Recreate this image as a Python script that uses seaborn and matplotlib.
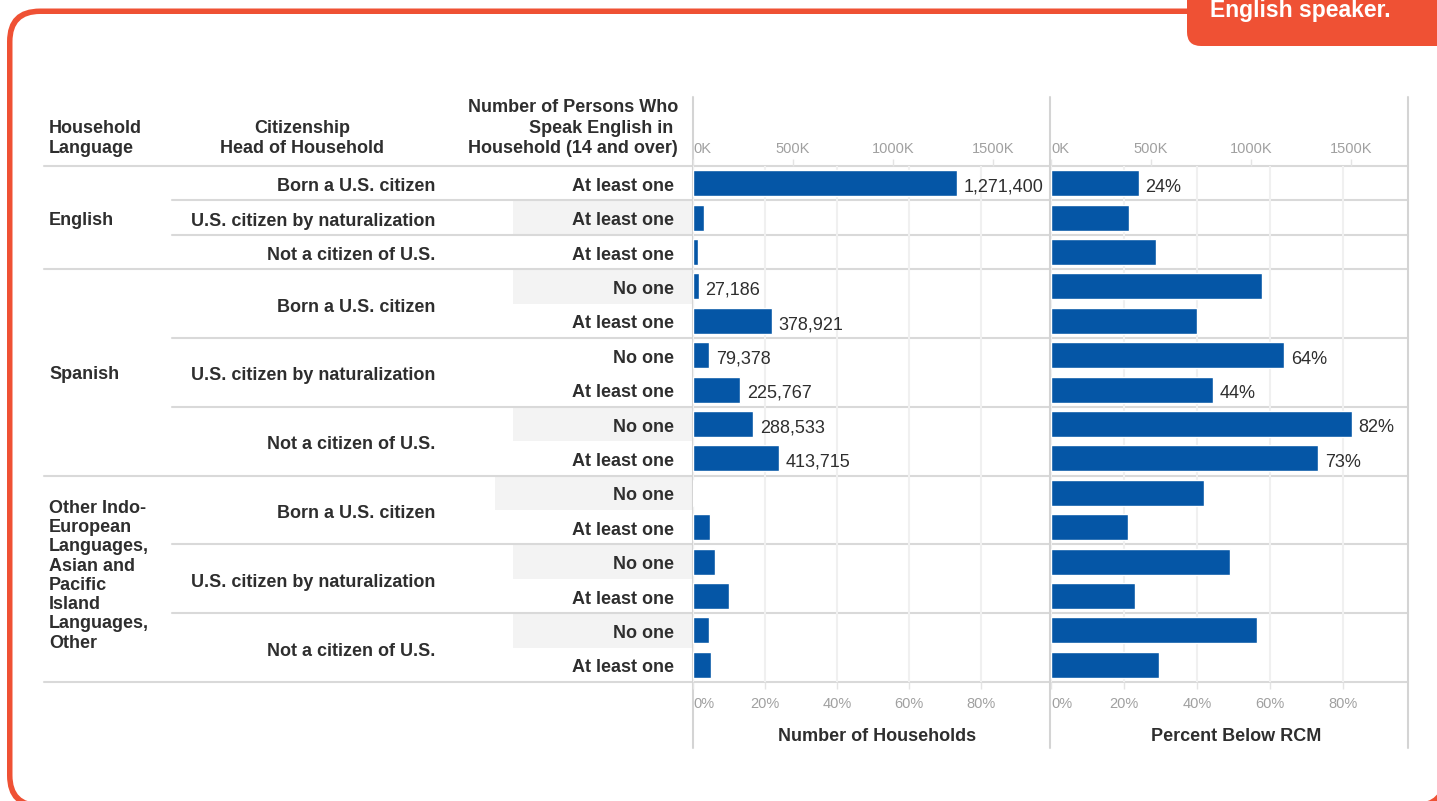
import matplotlib
matplotlib.use("Agg")
import matplotlib.pyplot as plt
from matplotlib.patches import FancyBboxPatch, Rectangle
from matplotlib.transforms import IdentityTransform
import seaborn as sns
import pandas as pd

# ---------------- data ----------------
languages = ["English"] * 3 + ["Spanish"] * 6 + ["Other"] * 6
citizenship = [
    "Born a U.S. citizen", "U.S. citizen by naturalization", "Not a citizen of U.S.",
    "Born a U.S. citizen", "Born a U.S. citizen",
    "U.S. citizen by naturalization", "U.S. citizen by naturalization",
    "Not a citizen of U.S.", "Not a citizen of U.S.",
    "Born a U.S. citizen", "Born a U.S. citizen",
    "U.S. citizen by naturalization", "U.S. citizen by naturalization",
    "Not a citizen of U.S.", "Not a citizen of U.S.",
]
english_speakers = ["At least one"] * 3 + ["No one", "At least one"] * 6
households = [1271400, 51000, 26500, 27186, 378921, 79378, 225767, 288533,
              413715, 5500, 80000, 108000, 176000, 75000, 85000]
pct_below_rcm = [24.0, 21.5, 28.9, 57.8, 40.0, 63.8, 44.4, 82.4, 73.2,
                 42.0, 21.0, 49.0, 22.9, 56.4, 29.7]
label_households = [True, False, False, True, True, True, True, True, True,
                    False, False, False, False, False, False]
label_pct = [True, False, False, False, False, True, True, True, True,
             False, False, False, False, False, False]
language_names = {
    "English": "English",
    "Spanish": "Spanish",
    "Other": "Other Indo-\nEuropean\nLanguages,\nAsian and\nPacific\nIsland\nLanguages,\nOther",
}
banded_rows = [1, 3, 7, 9, 11, 13]
k_ticks = [0, 500000, 1000000, 1500000]
k_tick_labels = ["0K", "500K", "1000K", "1500K"]
pct_ticks = [0, 20, 40, 60, 80]
pct_tick_labels = ["0%", "20%", "40%", "60%", "80%"]

# ---------------- layout & style ----------------
W, H = 1437, 801
TOP, ROW_H, N = 166, 34.4, len(households)
BOTTOM = TOP + ROW_H * N
P1_L, P1_R = 693, 1050
P2_L, P2_R = 1051, 1408
HH_PER_PX = 4825        # households per pixel in the left panel
PCT_PX_L = 3.6          # pixels per percent on the left panel's % axis
PCT_PX_R = 3.65         # pixels per percent in the right panel
K_PER_PX = 5000         # units per pixel on the top "K" axes

BLUE = "#0556a6"
ORANGE = "#ef5134"
TEXT = "#2e2e2e"
LINE = "#d9d9d9"
GRID = "#f0f0f0"
TICK_TXT = "#a0a0a0"
FS = 13

sns.set_style("white")
plt.rcParams["font.family"] = ["Liberation Sans", "DejaVu Sans"]

df = pd.DataFrame({
    "row": list(range(N)),
    "language": languages,
    "citizenship": citizenship,
    "speakers": english_speakers,
    "households": households,
    "pct": pct_below_rcm,
})

fig = plt.figure(figsize=(W / 100, H / 100), dpi=100)

# canvas in pixel coordinates (y downwards) for table text and rules
cv = fig.add_axes([0, 0, 1, 1])
cv.set_xlim(0, W)
cv.set_ylim(H, 0)
cv.axis("off")

def row_center(i):
    return TOP + (i + 0.5) * ROW_H

# outer rounded frame (orange ring) and callout tab, in device pixels (y upwards)
px = IdentityTransform()
cv.add_patch(FancyBboxPatch((7, H - 808.5), 1441, 800,
                            boxstyle="round,pad=0,rounding_size=33",
                            facecolor=ORANGE, edgecolor="none",
                            transform=px, clip_on=False, zorder=0))
cv.add_patch(FancyBboxPatch((12.5, H - 803), 1430, 789,
                            boxstyle="round,pad=0,rounding_size=27.5",
                            facecolor="white", edgecolor="none",
                            transform=px, clip_on=False, zorder=0.1))
cv.add_patch(FancyBboxPatch((1187, H - 46), 320, 120,
                            boxstyle="round,pad=0,rounding_size=14",
                            facecolor=ORANGE, edgecolor="none", transform=px,
                            clip_on=False, zorder=0.2))
cv.text(1300, 17, "English speaker.", color="white", fontsize=16.5,
        fontweight="bold", ha="center", va="baseline")

# banding in the speakers column
for i in banded_rows:
    x0 = 495 if i == 9 else 513
    cv.add_patch(Rectangle((x0, TOP + i * ROW_H), P1_L - x0, ROW_H,
                           facecolor="#f3f3f3", edgecolor="none", zorder=0.5))

# horizontal rules
cv.plot([44, P2_R], [TOP, TOP], color=LINE, lw=1.5)
for i in range(1, N + 1):
    y = TOP + i * ROW_H
    if i == N or languages[i] != languages[i - 1]:
        cv.plot([44, P2_R], [y, y], color=LINE, lw=1.5)
    elif citizenship[i] != citizenship[i - 1]:
        cv.plot([172, P2_R], [y, y], color=LINE, lw=1.5)

# vertical separators
for x in (P1_L, P1_R, P2_R):
    cv.plot([x, x], [97, 748], color="#d4d4d4", lw=1.5)

# column headers
hdr = dict(fontsize=FS, fontweight="bold", color=TEXT, va="baseline")
cv.text(49, 133, "Household", **hdr)
cv.text(49, 153, "Language", **hdr)
cv.text(302, 133, "Citizenship", ha="center", **hdr)
cv.text(302, 153, "Head of Household", ha="center", **hdr)
cv.text(678, 112, "Number of Persons Who", ha="right", **hdr)
cv.text(673, 133, "Speak English in", ha="right", **hdr)
cv.text(678, 153, "Household (14 and over)", ha="right", **hdr)

# language group labels
for lang in dict.fromkeys(languages):
    idx = [i for i, l in enumerate(languages) if l == lang]
    yc = (row_center(idx[0]) + row_center(idx[-1])) / 2
    name = language_names[lang]
    if "\n" in name:
        cv.text(49, yc - 3, name, fontsize=FS, fontweight="bold", color=TEXT,
                va="center", linespacing=1.17)
    else:
        cv.text(49, yc + 7, name, fontsize=FS, fontweight="bold", color=TEXT,
                va="baseline")

# citizenship labels (one per block)
start = 0
for i in range(1, N + 1):
    if i == N or citizenship[i] != citizenship[i - 1] or languages[i] != languages[i - 1]:
        yc = (row_center(start) + row_center(i - 1)) / 2
        cv.text(435, yc + 8, citizenship[start], fontsize=FS, fontweight="bold",
                color=TEXT, ha="right", va="baseline")
        start = i

# speakers labels
for i, s in enumerate(english_speakers):
    cv.text(674, row_center(i) + 7.5, s, fontsize=FS, fontweight="bold",
            color=TEXT, ha="right", va="baseline")

cv.text(877, 741, "Number of Households", fontsize=FS, fontweight="bold",
        color=TEXT, ha="center", va="baseline")
cv.text(1236, 741, "Percent Below RCM", fontsize=FS, fontweight="bold",
        color=TEXT, ha="center", va="baseline")


def bar_panel(left, right, col, xmax, bottom_ticks, to_k, from_k):
    ax = fig.add_axes([left / W, (H - BOTTOM) / H, (right - left) / W, (BOTTOM - TOP) / H])
    sns.barplot(data=df, x=col, y="row", orient="h", color=BLUE, saturation=1,
                width=0.76, errorbar=None, ax=ax, zorder=3)
    ax.set_facecolor("none")
    ax.set_xlim(0, xmax)
    ax.set_ylim(N - 0.5, -0.5)
    ax.set_xlabel("")
    ax.set_ylabel("")
    ax.set_yticks([])
    for sp in ax.spines.values():
        sp.set_visible(False)
    ax.set_xticks(bottom_ticks, labels=pct_tick_labels)
    ax.tick_params(axis="x", bottom=True, length=5, width=1, color="#e4e4e4",
                   labelsize=10.5, labelcolor=TICK_TXT, pad=6)
    ax.get_xticklabels()[0].set_ha("left")
    ax.grid(axis="x", color=GRID, lw=1.5)
    ax.set_axisbelow(True)
    top = ax.secondary_xaxis("top", functions=(to_k, from_k))
    top.set_xticks(k_ticks, labels=k_tick_labels)
    top.tick_params(length=5, width=1, color="#e4e4e4", labelsize=10.5,
                    labelcolor=TICK_TXT, pad=2)
    top.get_xticklabels()[0].set_ha("left")
    top.spines["top"].set_visible(False)
    return ax


ax1 = bar_panel(P1_L, P1_R, "households", (P1_R - P1_L) * HH_PER_PX,
                [p * PCT_PX_L * HH_PER_PX for p in pct_ticks],
                lambda x: x / HH_PER_PX * K_PER_PX,
                lambda k: k / K_PER_PX * HH_PER_PX)
ax2 = bar_panel(P2_L, P2_R, "pct", (P2_R - P2_L) / PCT_PX_R, pct_ticks,
                lambda x: x * PCT_PX_R * K_PER_PX,
                lambda k: k / K_PER_PX / PCT_PX_R)

# value labels
for i, (v, show) in enumerate(zip(households, label_households)):
    if show:
        ax1.annotate(f"{v:,}", (v, i), xytext=(5, -6), textcoords="offset points",
                     fontsize=FS, color=TEXT, va="baseline", ha="left")
for i, (v, show) in enumerate(zip(pct_below_rcm, label_pct)):
    if show:
        ax2.annotate(f"{v:.0f}%", (v, i), xytext=(5, -6), textcoords="offset points",
                     fontsize=FS, color=TEXT, va="baseline", ha="left")

fig.savefig("out.png", dpi=100)
